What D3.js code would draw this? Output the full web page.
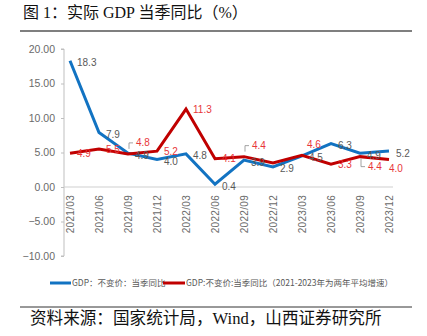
<!DOCTYPE html>
<html><head><meta charset="utf-8">
<script src="https://cdn.jsdelivr.net/npm/d3@7/dist/d3.min.js"></script>
<style>
html,body{margin:0;padding:0;background:#fff;}
svg{display:block;}
</style></head>
<body>
<script>
const categories = ["2021/03","2021/06","2021/09","2021/12","2022/03","2022/06","2022/09","2022/12","2023/03","2023/06","2023/09","2023/12"];
const gdpYoY = [18.3, 7.9, 4.9, 4.0, 4.8, 0.4, 3.9, 2.9, 4.5, 6.3, 4.9, 5.2];
const gdpTwoYearAvg = [4.9, 5.5, 4.8, 5.2, 11.3, 4.1, 4.4, 3.5, 4.6, 3.3, 4.4, 4.0];
const yTicks = [-10, -5, 0, 5, 10, 15, 20];
const seriesNames = ["GDP：不变价：当季同比", "GDP:不变价:当季同比（2021-2023年为两年平均增速）"];
// label placement for the red series
const redLabelPlace = ["right","right","above","right","right","right","above","none","above","right","below","below"];
const redLeader = [false,false,true,false,false,false,true,false,false,false,true,false];

const W = 427, H = 336;
const svg = d3.select("body").append("svg").attr("width", W).attr("height", H);
const serif = "'Liberation Serif','Noto Sans CJK SC',serif";
const narrow = "'Liberation Sans Narrow','Liberation Sans',Arial,sans-serif";
const cjk = "'Liberation Sans Narrow','Noto Sans CJK SC',sans-serif";

// Title
svg.append("text").attr("x", 23).attr("y", 18).attr("font-family", serif)
  .attr("font-size", 16).attr("fill", "#111").text("图 1：实际 GDP 当季同比（%）");
svg.append("line").attr("x1", 20).attr("x2", 412).attr("y1", 31).attr("y2", 31)
  .attr("stroke", "#555").attr("stroke-width", 1.3);

const x = d3.scalePoint().domain(categories).range([70, 389]);
const y = d3.scaleLinear().domain([-10, 20]).range([256, 49]);

// Y axis
const yAxis = d3.axisLeft(y).tickValues(yTicks).tickFormat(d3.format(".2f")).tickSize(3).tickPadding(6);
const gy = svg.append("g").attr("transform", "translate(64,0)").call(yAxis);
gy.select(".domain").attr("stroke", "#bfbfbf").attr("d", `M-3,${y(20)}H0V${y(-10)}H-3`);
gy.selectAll(".tick line").attr("stroke", "#bfbfbf");
gy.selectAll(".tick text").attr("font-family", narrow).attr("font-size", 10.5).attr("fill", "#6a6a6a");

// X axis at zero
const xAxis = d3.axisBottom(x).tickSize(0).tickPadding(0);
const gx = svg.append("g").attr("transform", `translate(0,${y(0)})`).call(xAxis);
gx.select(".domain").attr("stroke", "#d0d0d0").attr("stroke-width", 1.2).attr("d", "M64,0H393");
gx.selectAll(".tick text")
  .attr("font-family", "'Liberation Sans',Arial,sans-serif").attr("font-size", 10)
  .attr("letter-spacing", 0.3)
  .attr("fill", "#6a6a6a").attr("text-anchor", "end")
  .attr("transform", "rotate(-90)").attr("x", -8).attr("y", 0).attr("dy", "0.35em");

const line = d3.line().x((d, i) => x(categories[i])).y(d => y(d));
const blue = "#1273c2", red = "#c00000";

svg.append("path").datum(gdpYoY).attr("d", line).attr("fill", "none")
  .attr("stroke", blue).attr("stroke-width", 3).attr("stroke-linejoin", "miter");
svg.append("path").datum(gdpTwoYearAvg).attr("d", line).attr("fill", "none")
  .attr("stroke", red).attr("stroke-width", 3).attr("stroke-linejoin", "miter");

// blue labels
svg.append("g").selectAll("text").data(gdpYoY).join("text")
  .attr("x", (d, i) => x(categories[i]) + 7).attr("y", d => y(d) + 2)
  .attr("dy", "0.35em").attr("font-family", narrow).attr("font-size", 10)
  .attr("fill", "#595959").text(d => d.toFixed(1));

// red labels
const off = {right: [7, 0], above: [5, -11], below: [5, 10]};
const rl = svg.append("g");
gdpTwoYearAvg.forEach((d, i) => {
  const p = redLabelPlace[i];
  if (p === "none") return;
  let [dx, dy] = off[p];
  if (redLeader[i]) dx += 3;
  if (i === 11) { dx = 0; dy = 9; }
  const px = x(categories[i]), py = y(d);
  rl.append("text").attr("x", px + dx).attr("y", py + dy).attr("dy", "0.35em")
    .attr("font-family", narrow).attr("font-size", 10).attr("fill", "#e8363a")
    .text(d.toFixed(1));
  if (redLeader[i]) {
    const lx = px + dx - 3;
    const ly = py + dy;
    const path = p === "above"
      ? `M${lx - 4},${ly + 6}V${ly}H${lx}`
      : `M${lx - 4},${ly - 8}V${ly}H${lx}`;
    rl.append("path").attr("d", path).attr("fill", "none").attr("stroke", "#8c8c8c").attr("stroke-width", 0.8);
  }
});

// Legend
const lg = svg.append("g").attr("transform", "translate(0,283)");
lg.append("line").attr("x1", 50).attr("x2", 71).attr("y1", 0).attr("y2", 0).attr("stroke", blue).attr("stroke-width", 3);
lg.append("text").attr("x", 72).attr("y", 0).attr("dy", "0.35em").attr("font-family", cjk)
  .attr("font-size", 8.5).attr("fill", "#595959").text(seriesNames[0]);
lg.append("line").attr("x1", 163).attr("x2", 185).attr("y1", 0).attr("y2", 0).attr("stroke", red).attr("stroke-width", 3);
lg.append("text").attr("x", 186).attr("y", 0).attr("dy", "0.35em").attr("font-family", cjk)
  .attr("font-size", 8.5).attr("fill", "#595959").text(seriesNames[1]);

// Source
svg.append("line").attr("x1", 20).attr("x2", 412).attr("y1", 307).attr("y2", 307)
  .attr("stroke", "#333").attr("stroke-width", 1);
svg.append("text").attr("x", 30).attr("y", 324).attr("font-family", serif)
  .attr("font-size", 16.6).attr("fill", "#111").text("资料来源：国家统计局，Wind，山西证券研究所");
</script>
</body></html>
